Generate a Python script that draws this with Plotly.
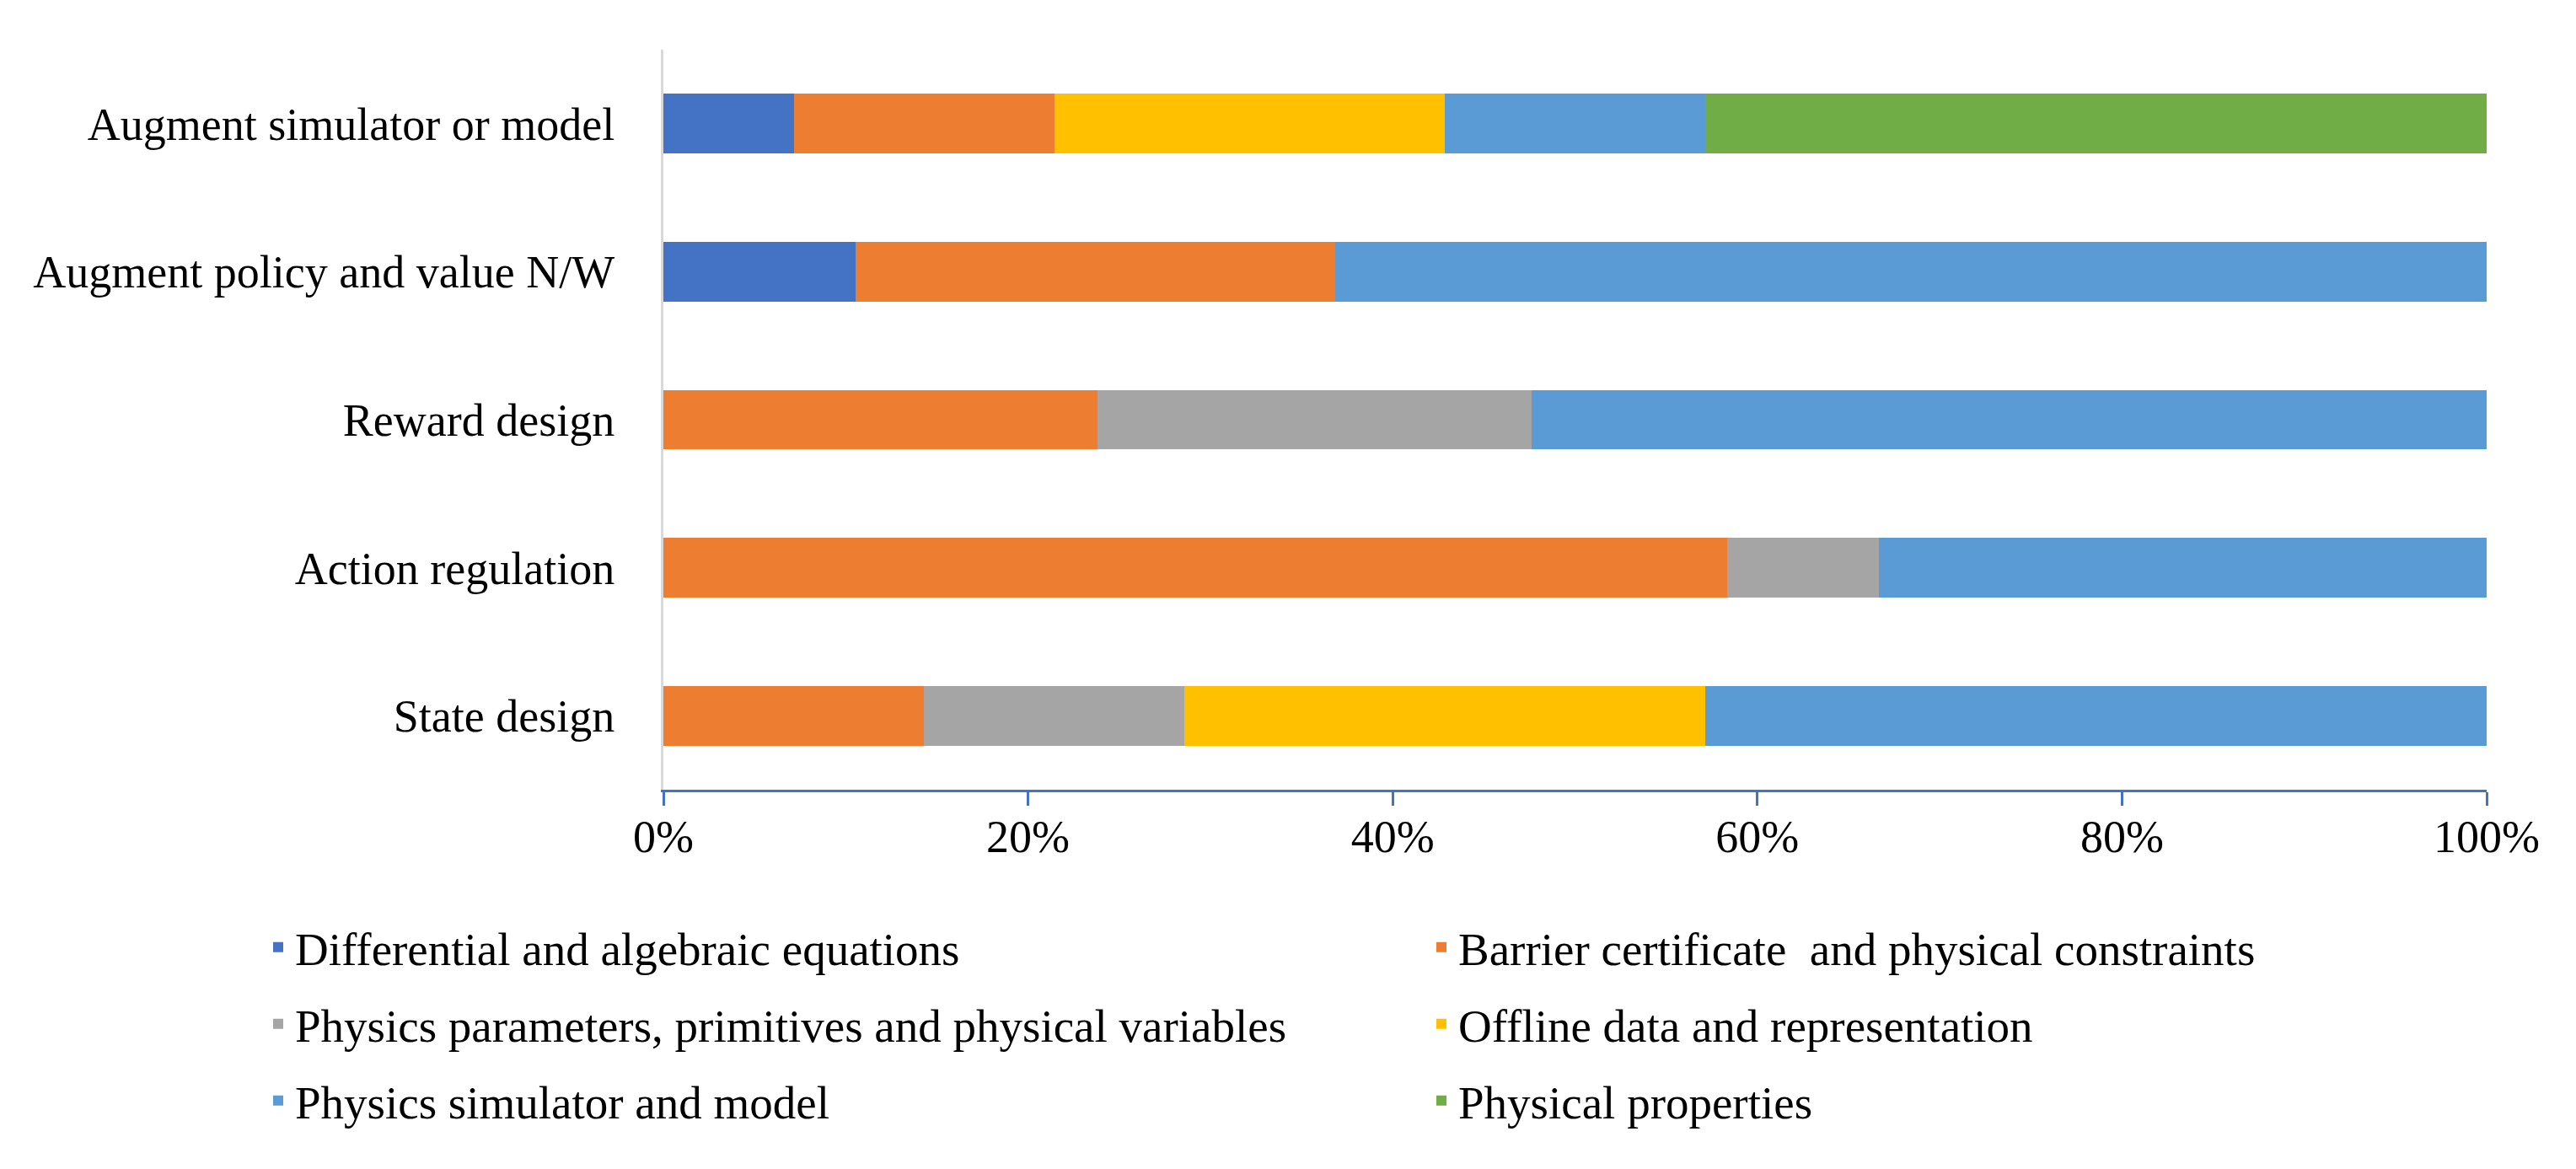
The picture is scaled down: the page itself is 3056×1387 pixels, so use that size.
import plotly.graph_objects as go

# categories, bottom to top (plotly draws the first category at the bottom)
categories = ["State design", "Action regulation", "Reward design",
              "Augment policy and value N/W", "Augment simulator or model"]

# paper counts per category (shown as % of each row)
diff_alg = [0, 0, 0, 2, 1]
barrier = [1, 7, 5, 5, 2]
phys_params = [1, 1, 5, 0, 0]
offline = [2, 0, 0, 0, 3]
phys_sim = [3, 4, 11, 12, 2]
phys_props = [0, 0, 0, 0, 6]

names = ["Differential and algebraic equations",
         "Barrier certificate  and physical constraints",
         "Physics parameters, primitives and physical variables",
         "Offline data and representation",
         "Physics simulator and model",
         "Physical properties"]
values = [diff_alg, barrier, phys_params, offline, phys_sim, phys_props]
colors = ["#4472C4", "#ED7D31", "#A5A5A5", "#FFC000", "#5B9BD5", "#70AD47"]

serif = "Liberation Serif, Times New Roman, serif"

# one small legend per cell of the 2 x 3 grid below the chart
legend_ids = ["legend", "legend2", "legend3", "legend4", "legend5", "legend6"]

fig = go.Figure()
for name, vals, color, lid in zip(names, values, colors, legend_ids):
    fig.add_bar(y=categories, x=vals, name=name, orientation="h",
                marker=dict(color=color, line=dict(width=0)),
                legend=lid, showlegend=True)

col_x = [302, 1682]
row_y = [1116, 1207, 1298]
W, H = 3056, 1387

legends = {}
for i, lid in enumerate(legend_ids):
    legends[lid] = dict(xref="container", yref="container",
                        x=col_x[i % 2] / W, y=1 - row_y[i // 2] / H,
                        xanchor="left", yanchor="middle",
                        font=dict(family=serif, size=55, color="#000000"),
                        bgcolor="rgba(0,0,0,0)", borderwidth=0)

fig.update_layout(
    width=W, height=H, showlegend=True,
    barmode="stack", barnorm="percent", bargap=0.596,
    plot_bgcolor="white", paper_bgcolor="white",
    margin=dict(l=779, r=114, t=51, b=458, autoexpand=False),
    xaxis=dict(range=[0, 100], dtick=20, ticksuffix="%", showgrid=False,
               zeroline=False, showline=True, linecolor="#4472C4", linewidth=3,
               ticks="outside", ticklen=16, tickwidth=3, tickcolor="#4472C4",
               tickfont=dict(family=serif, size=54, color="#000000"),
               ticklabelstandoff=-10),
    yaxis=dict(showgrid=False, zeroline=False, showline=True,
               linecolor="#D9D9D9", linewidth=3, ticks="",
               tickfont=dict(family=serif, size=54, color="#000000"),
               ticklabelstandoff=44),
    **legends,
)

fig.write_html("out.html")
